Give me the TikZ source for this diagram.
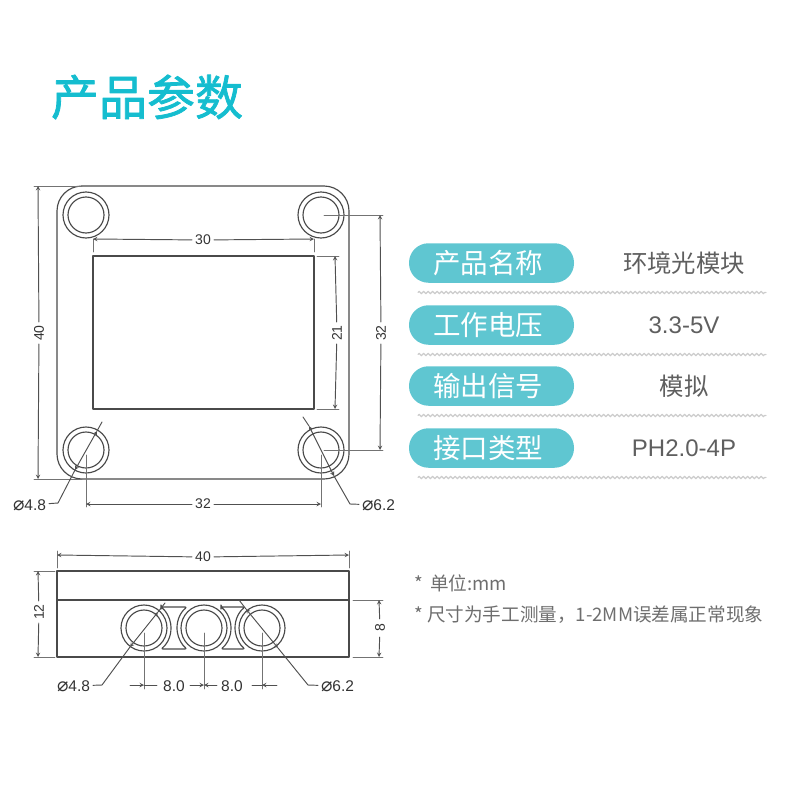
\documentclass[tikz,border=0pt]{standalone}
\usepackage{fontspec}
\setmainfont{Liberation Sans}
\newfontfamily\cjkfont{Noto Sans CJK SC}
\newfontfamily\titlefont[FakeBold=1.6]{Noto Sans CJK SC}
\newfontfamily\dejafont{DejaVu Sans}
\usetikzlibrary{decorations.pathmorphing}
\definecolor{tealtitle}{HTML}{15BDCF}
\definecolor{tealpill}{HTML}{5FC6D1}
\definecolor{partline}{HTML}{4A4A4A}
\definecolor{dimline}{HTML}{505050}
\definecolor{dimtext}{HTML}{333333}
\definecolor{valuetext}{HTML}{5F5F5F}
\definecolor{notetext}{HTML}{6E6E6E}
\newcommand{\sz}[1]{\fontsize{#1}{#1}\selectfont}
\newcommand{\dia}{{\dejafont\sz{19}⌀}}
\tikzset{
	part/.style={draw=partline, line width=1.15pt},
	dimen/.style={draw=dimline, line width=.95pt},
	extline/.style={draw=dimline!80, line width=.9pt},
	dimlabel/.style={text=dimtext, font=\sz{14}, inner sep=3pt},
	holelabel/.style={text=dimtext, font=\sz{15.5}, inner sep=0pt, outer sep=3pt},
	pillbox/.style={fill=tealpill, rounded corners=19.5pt, minimum width=165pt, minimum height=39.5pt, inner sep=0pt, text=white, font=\cjkfont\sz{27.5}},
	valuelabel/.style={text=valuetext, font=\cjkfont\sz{24.4}, inner sep=0pt},
	numvalue/.style={text=valuetext, font=\sz{24}, inner sep=0pt},
	wavyline/.style={draw=black!20, line width=1.2pt, decorate, decoration={zigzag, segment length=4.5pt, amplitude=1.2pt}},
	notelabel/.style={text=notetext, font=\cjkfont\sz{18.6}, inner sep=0pt, anchor=west}
}
\begin{document}
\begin{tikzpicture}[x=1pt, y=-1pt, line join=round, line cap=round, >=stealth]
	\useasboundingbox (0,0) rectangle (800,800);
	
	% title
	\node[text=tealtitle, font=\titlefont\sz{48}, inner sep=0pt] (title) at (147,97) {产品参数};
	
	% top view
	\path
	(86,215) coordinate (H1)
	(321,215) coordinate (H2)
	(86,450) coordinate (H3)
	(321,450) coordinate (H4)
	(57,186) coordinate (P1)
	(349,479) coordinate (P2)
	(93,256) coordinate (W1)
	(314,409) coordinate (W2)
	(38,186) coordinate (A40t)
	(38,479) coordinate (A40b)
	(93,239) coordinate (A30l)
	(314,239) coordinate (A30r)
	(86,504) coordinate (B32l)
	(321,504) coordinate (B32r)
	(335,256) coordinate (A21t)
	(335,409) coordinate (A21b)
	(380,215) coordinate (R32t)
	(380,450) coordinate (R32b);
	
	\draw[part, rounded corners=25pt] (P1) rectangle (P2);
	\draw[part] (W1) rectangle (W2);
	\foreach \hole in {H1,H2,H3,H4}
	\draw[part] (\hole) circle (23) (\hole) circle (18);
	
	% extension lines
	\draw[extline]
	(34,186)--(82,186)
	(34,479)--(82,479)
	(93,239)--(93,252)
	(314,239)--(314,252)
	(86,455)--(86,507)
	(321,455)--(321,507)
	(317,256)--(339,256)
	(317,409)--(339,409)
	(324,215)--(383,215)
	(324,450)--(383,450);
	
	\node[dimlabel, rotate=90] (L40) at (39,333) {40};
	\node[dimlabel] (T30) at (203,240) {30};
	\node[dimlabel] (B32) at (203,504) {32};
	\node[dimlabel, rotate=90] (L21) at (337,333) {21};
	\node[dimlabel, rotate=90] (R32) at (381,333) {32};
	
	\foreach \textnode/\firstpoint/\secondpoint in {L40/A40t/A40b, T30/A30l/A30r, B32/B32l/B32r, L21/A21t/A21b, R32/R32t/R32b}
	\draw[dimen, ->] (\textnode) -- (\firstpoint) (\textnode) edge[dimen, ->] (\secondpoint);
	
	% hole leaders, top view
	\node[holelabel, anchor=east] (D48t) at (49,505) {\dia4.8};
	\node[holelabel, anchor=west] (D62t) at (359,505) {\dia6.2};
	\path
	(102,422) coordinate (Q1)
	(97,431) coordinate (Q2)
	(75,470) coordinate (Q3)
	(58,503) coordinate (Q4)
	(303,417) coordinate (S1)
	(309,426) coordinate (S2)
	(334,476) coordinate (S3)
	(350,504) coordinate (S4);
	\draw[dimen] (D48t) -- (Q4) -- (Q3) (Q2) -- (Q1);
	\draw[dimen, <->] (Q3) -- (Q2);
	\draw[dimen] (D62t) -- (S4) -- (S3) (S2) -- (S1);
	\draw[dimen, <->] (S3) -- (S2);
	
	% front view
	\path
	(144,628) coordinate (C1)
	(204,628) coordinate (C2)
	(262,628) coordinate (C3)
	(57,571) coordinate (F1)
	(349,657) coordinate (F2)
	(57,600) coordinate (G1)
	(349,600) coordinate (G2)
	(57,555) coordinate (T40l)
	(349,555) coordinate (T40r)
	(38,571) coordinate (L12t)
	(38,657) coordinate (L12b)
	(379,600) coordinate (R8t)
	(379,657) coordinate (R8b);
	
	\draw[part] (F1) rectangle (F2);
	\draw[part] (G1) -- (G2);
	\foreach \hole in {C1,C2,C3}
	\draw[part] (\hole) circle (23) (\hole) circle (18);
	
	\foreach \leftx/\rightx in {144/204, 204/262}
	\draw[part, rounded corners=2pt]
	({\leftx+17},607) -- ({\rightx-17},607)
	arc[start angle=231, end angle=129, radius=27] -- ({\leftx+17},649)
	arc[start angle=51, end angle=-51, radius=27] -- cycle;
	
	\draw[extline]
	(57,551)--(57,568)
	(349,551)--(349,568)
	(34,571)--(55,571)
	(34,657)--(55,657)
	(353,600)--(383,600)
	(353,657)--(383,657)
	(144,633)--(144,689)
	(204,633)--(204,689)
	(262,633)--(262,689);
	
	\node[dimlabel] (T40) at (203,557) {40};
	\node[dimlabel, rotate=90] (L12) at (39,612) {12};
	\node[dimlabel, rotate=90, inner sep=5pt] (R8) at (380,628) {8};
	\foreach \textnode/\firstpoint/\secondpoint in {T40/T40l/T40r, L12/L12t/L12b, R8/R8t/R8b}
	\draw[dimen, ->] (\textnode) -- (\firstpoint) (\textnode) edge[dimen, ->] (\secondpoint);
	
	% pitch dimensions
	\node[holelabel] (E1) at (174,686) {8.0};
	\node[holelabel] (E2) at (232,686) {8.0};
	\path
	(144,685) coordinate (D1)
	(204,685) coordinate (D2)
	(262,685) coordinate (D3)
	(130,685) coordinate (D1a)
	(277,685) coordinate (D3a)
	(157,685) coordinate (D1b)
	(190,685) coordinate (D2a)
	(217,685) coordinate (D2b)
	(252,685) coordinate (D3b);
	\draw[dimen, ->] (D1a) -- (D1);
	\draw[dimen] (D1) -- (D1b);
	\draw[dimen, ->] (D2a) -- (D2);
	\draw[dimen, ->] (D2b) -- (D2);
	\draw[dimen, ->] (D3a) -- (D3);
	\draw[dimen] (D3) -- (D3b);
	
	% hole leaders, front view
	\node[holelabel, anchor=east] (D48f) at (93,686) {\dia4.8};
	\node[holelabel, anchor=west] (D62f) at (318,686) {\dia6.2};
	\path
	(165,603) coordinate (U1)
	(158,612) coordinate (U2)
	(130,647) coordinate (U3)
	(102,685) coordinate (U4)
	(239,600) coordinate (V1)
	(246,609) coordinate (V2)
	(278,648) coordinate (V3)
	(308,685) coordinate (V4);
	\draw[dimen] (D48f) -- (U4) -- (U3) (U2) -- (U1);
	\draw[dimen, <->] (U3) -- (U2);
	\draw[dimen] (D62f) -- (V4) -- (V3) (V2) -- (V1);
	\draw[dimen, <->] (V3) -- (V2);
	
	% parameter table
	\foreach \y/\name/\rowname/\rowfont in {263/产品名称/环境光模块/valuelabel, 325/工作电压/3.3-5V/numvalue, 386/输出信号/模拟/valuelabel, 448/接口类型/PH2.0-4P/numvalue}{
		\node[pillbox] (pill\y) at (491.5,\y) {\name\hspace*{7pt}};
		\node[\rowfont] (value\y) at (684,\y) {\rowname};
		\draw[wavyline] (418,\y+29.5) -- (766,\y+29.5);
	}
	
	% notes
	\node[notelabel] (note1) at (414,583) {*\hspace{3pt} 单位:mm};
	\node[notelabel] (note2) at (414,615) {* 尺寸为手工测量，1-2MM误差属正常现象};
\end{tikzpicture}
\end{document}
